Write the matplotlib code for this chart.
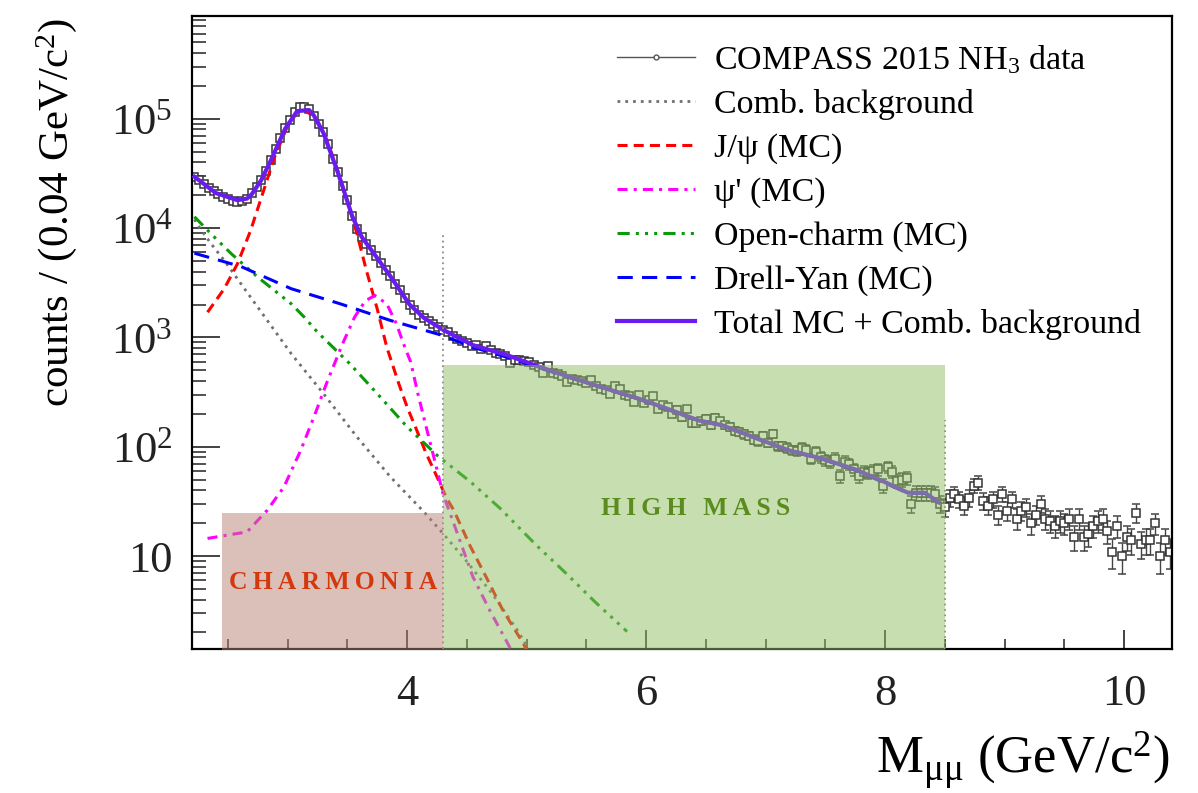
import numpy as np
import matplotlib
matplotlib.use("Agg")
import matplotlib.pyplot as plt
from matplotlib.lines import Line2D
from matplotlib.ticker import FixedLocator, LogLocator, NullFormatter, MultipleLocator

plt.rcParams['font.family'] = ['Liberation Serif', 'DejaVu Serif']
plt.rcParams['mathtext.fontset'] = 'custom'
plt.rcParams['mathtext.rm'] = 'Liberation Serif'
plt.rcParams['mathtext.it'] = 'Liberation Serif:italic'
plt.rcParams['mathtext.bf'] = 'Liberation Serif:bold'

# COMPASS 2015 NH3 dimuon mass spectrum, 0.04 GeV bins from 2.2 GeV
bin_w = 0.04
mass = np.round(np.arange(2.2 + bin_w / 2, 10.4, bin_w), 2)
counts = np.array([
    29500, 27500, 25350, 23280, 21680, 20510, 19410, 18450, 17820, 17460,
    17600, 18450, 20800, 23600, 27540, 33500, 42000, 52800, 66700, 82200,
    97300, 114300, 127000, 128800, 122400, 106400, 89300, 75000, 58700, 42900,
    32400, 24400, 18100, 13000, 9840, 8240, 7180, 6240, 5500, 4780,
    4150, 3610, 3090, 2690, 2300, 2000, 1770, 1620, 1510, 1410,
    1330, 1240,
    1160, 1120, 1040, 973, 925, 887, 828, 845, 789, 828,
    760, 719, 710, 670, 587, 625, 617, 608, 596, 564,
    536, 472, 547, 472, 466, 441, 388, 420, 405, 396,
    383, 405, 360, 340, 333, 306, 357, 340, 295, 293,
    255, 295, 251, 266, 289, 223, 239, 231, 201, 219,
    187, 223, 164, 166,
    172, 181, 157, 185, 172, 157, 152, 139, 136, 130,
    126, 116, 113, 126, 109, 132, 101, 101, 98, 93,
    91, 98, 94, 78, 90, 80, 75, 73, 78, 54,
    73, 69, 62, 54, 59, 58, 60, 62, 44, 65,
    59, 49, 50, 52, 30, 38, 38, 38, 38, 37,
    30, 28,
    34, 37, 33, 29, 34, 44, 47, 32, 29, 33,
    24, 37, 26, 33, 22, 26, 28, 20, 24, 30,
    22, 21, 19, 21, 20, 22, 15, 22, 15, 16,
    19, 21, 22, 17, 11, 19, 10, 15, 14, 25,
    13, 14, 14, 20, 10, 14, 11,
])
counts_err = np.sqrt(counts)

# MC curves
total_x = [2.22, 2.40, 2.58, 2.66, 2.70, 2.78, 2.86, 2.98, 3.08, 3.18, 3.22, 3.30,
           3.42, 3.54, 3.62, 3.74, 3.86, 4.02, 4.14, 4.30, 4.55, 4.83, 5.11, 5.38,
           5.67, 5.94, 6.22, 6.44, 6.63, 6.92, 7.19, 7.47, 7.75, 7.97, 8.19, 8.33, 8.45]
total_y = [29500, 20900, 18000, 18600, 20400, 27500, 41700, 81300, 117500, 120200, 107000, 74100,
           32400, 12900, 8300, 5500, 3630, 2000, 1510, 1175, 851, 692, 537, 427,
           339, 275, 214, 174, 158, 120, 93, 78, 62, 49, 38, 38, 31]

jpsi_x = [2.33, 2.47, 2.58, 2.69, 2.79, 2.89, 3.00, 3.08, 3.15, 3.25, 3.33, 3.41,
          3.50, 3.58, 3.66, 3.75, 3.83, 3.93, 4.00, 4.08, 4.16, 4.25, 4.33, 4.39,
          4.53, 4.66, 4.80, 4.97, 5.02]
jpsi_y = [1700, 2790, 4710, 9480, 20500, 44400, 86300, 114300, 120200, 95500, 63100, 36000,
          17800, 8910, 4070, 1820, 813, 378, 231, 142, 86.7, 53, 33.9, 26.3,
          12.2, 6.47, 3.21, 1.60, 1.26]

psi2_x = [2.33, 2.55, 2.66, 2.83, 2.97, 3.11, 3.22, 3.33, 3.46, 3.56, 3.65, 3.73,
          3.83, 3.91, 3.98, 4.03, 4.09, 4.16, 4.23, 4.30, 4.41, 4.55, 4.69, 4.84, 4.88]
psi2_y = [14.5, 15.9, 16.6, 26.3, 43, 92.9, 187, 391, 875, 1531, 2160, 2420,
          2030, 1334, 817, 596, 306, 151, 75.3, 37.3, 17.3, 6.47, 3.21, 1.6, 1.32]

comb_x = [2.22, 2.28, 2.36, 2.47, 2.61, 2.75, 2.89, 3.03, 3.30, 3.58, 3.86, 4.14,
          4.30, 4.50, 4.72, 4.94, 5.00]
comb_y = [12000, 9480, 7180, 5050, 3090, 1890, 1160, 710, 306, 123, 53, 25.4,
          16.1, 8.9, 4.4, 1.97, 1.5]

charm_x = [2.22, 2.36, 2.53, 2.75, 3.03, 3.14, 3.25, 3.52, 3.75, 4.00, 4.25, 4.32, 4.53,
           4.78, 5.08, 5.33, 5.57, 5.84]
charm_y = [12700, 8850, 5810, 3560, 2030, 1530, 1117, 575, 306, 152, 83.6, 72.6, 47.8,
           27.2, 12.6, 6.95, 3.83, 2.04]

dy_x = [2.22, 2.61, 3.03, 3.44, 3.86, 4.30, 4.55, 4.83, 5.11, 5.38, 5.67, 5.94,
        6.22, 6.44, 6.63, 6.92, 7.19, 7.47, 7.75, 7.97, 8.19, 8.33, 8.45]
dy_y = [5890, 4450, 2790, 2030, 1430, 1040, 813, 661, 525, 422, 335, 272,
        211, 172, 157, 119, 92, 77, 61, 48, 37.6, 37.6, 30.5]

# mass regions
charmonia_range = (2.45, 4.3)
charmonia_top = 25
highmass_range = (4.3, 8.5)
highmass_top = 555

fig = plt.figure(figsize=(11.98, 7.93), dpi=100)
ax = fig.add_axes([192 / 1198, 1 - 649 / 793, 980 / 1198, 633 / 793])

ax.errorbar(mass, counts, yerr=counts_err, fmt='s', ms=5.5, mfc='white', mec='#333333',
            mew=1.1, ecolor='#444444', elinewidth=1, capsize=3, capthick=1, zorder=2)

ax.plot(comb_x, comb_y, color='#707070', lw=2, ls=(0, (1, 1.8)), zorder=3)
ax.plot(jpsi_x, jpsi_y, color='#ff0000', lw=2.2, ls=(0, (3.3, 2)), zorder=3)
ax.plot(psi2_x, psi2_y, color='#ff00ff', lw=2.2, ls=(0, (3.3, 2, 1, 2)), zorder=3)
ax.plot(charm_x, charm_y, color='#0a9a0a', lw=2.2, ls=(0, (4, 2, 1, 2, 1, 2, 1, 2)), zorder=3)
ax.plot(dy_x, dy_y, color='#0000ff', lw=2.2, ls=(0, (5, 3)), zorder=3)
ax.plot(total_x, total_y, color='#6a1cf0', lw=3, zorder=4)

# region boundaries
ax.vlines(4.3, 1, 9200, color='#8a8a8a', lw=1.3, ls=(0, (1, 2)), zorder=5)
ax.vlines(8.5, 1, 175, color='#8a8a8a', lw=1.3, ls=(0, (1, 2)), zorder=5)

ax.fill_between(charmonia_range, 1, charmonia_top, color='#b98175', alpha=0.5, lw=0, zorder=6)
ax.fill_between(highmass_range, 1, highmass_top, color='#91bf63', alpha=0.5, lw=0, zorder=6)
ax.text(3.38, 5.75, '\u2009'.join('CHARMONIA'), color='#d4380d', fontsize=18.5,
        fontweight='bold', ha='center', va='center', zorder=7)
ax.text(6.41, 27.5, '\u2009'.join('HIGH MASS'), color='#5a8c1e', fontsize=18.5,
        fontweight='bold', ha='center', va='center', zorder=7)

ax.set_yscale('log')
ax.set_xlim(2.2, 10.4)
ax.set_ylim(10 ** 0.15, 10 ** 5.94)

ax.xaxis.set_major_locator(FixedLocator([4, 6, 8, 10]))
ax.xaxis.set_minor_locator(MultipleLocator(0.5))
ax.set_xticklabels(['4', '6', '8', '10'])
ax.yaxis.set_major_locator(FixedLocator([10, 1e2, 1e3, 1e4, 1e5]))
ax.set_yticklabels(['10', r'$10^{2}$', r'$10^{3}$', r'$10^{4}$', r'$10^{5}$'])
ax.yaxis.set_minor_locator(LogLocator(base=10, subs=np.arange(2, 10)))
ax.yaxis.set_minor_formatter(NullFormatter())

ax.tick_params(axis='both', which='both', direction='in', top=False, right=False, colors='#222222')
ax.tick_params(axis='y', which='major', length=20, width=1.2, labelsize=32, pad=14)
ax.tick_params(axis='y', which='minor', length=10, width=1.1)
ax.tick_params(axis='x', which='major', length=14, width=1.2, labelsize=32, pad=18)
ax.tick_params(axis='x', which='minor', length=7, width=1.1)
for sp in ax.spines.values():
    sp.set_linewidth(1.6)

fig.text(57 / 1198, 1 - 18 / 793, r'counts / (0.04 GeV/c$^{2}$)', rotation=90,
         ha='center', va='top', fontsize=31)
fig.text(1170 / 1198, 1 - 760 / 793, r'M$_{\mathrm{\mu\mu}}$ (GeV/c$^{2}$)',
         ha='right', va='center', fontsize=38)

handles = [
    Line2D([], [], color='#555555', lw=1, marker='o', ms=3.5, mfc='white', mec='#555555'),
    Line2D([], [], color='#707070', lw=2, ls=(0, (1, 1.8))),
    Line2D([], [], color='#ff0000', lw=2.2, ls=(0, (3.3, 2))),
    Line2D([], [], color='#ff00ff', lw=2.2, ls=(0, (3.3, 2, 1, 2))),
    Line2D([], [], color='#0a9a0a', lw=2.2, ls=(0, (4, 2, 1, 2, 1, 2, 1, 2))),
    Line2D([], [], color='#0000ff', lw=2.2, ls=(0, (5, 3))),
    Line2D([], [], color='#6a1cf0', lw=3),
]
labels = [r'COMPASS 2015 NH$_{3}$ data', 'Comb. background', 'J/ψ (MC)', "ψ' (MC)",
          'Open-charm (MC)', 'Drell-Yan (MC)', 'Total MC + Comb. background']
fig.legend(handles, labels, loc='upper left', bbox_to_anchor=(617 / 1198, 1 - 43 / 793),
           frameon=False, fontsize=24.5, handlelength=2.3, handletextpad=0.55,
           labelspacing=0.38, borderpad=0, borderaxespad=0)

fig.savefig('out.png', dpi=100)
